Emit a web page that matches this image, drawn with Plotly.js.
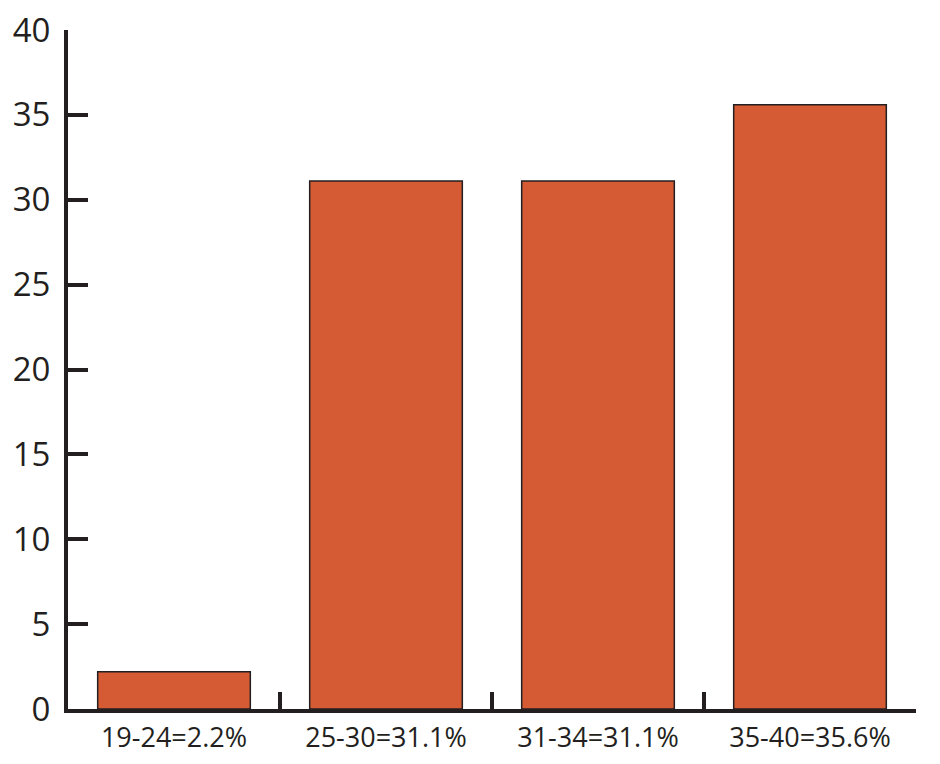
<!DOCTYPE html>
<html>
<head>
<meta charset="utf-8">
<script src="https://cdn.plot.ly/plotly-3.0.1.min.js"></script>
<style>html,body{margin:0;padding:0;background:#fff;}#chart{width:940px;height:764px;}</style>
</head>
<body>
<div id="chart"></div>
<script>
const categories = ["19-24=2.2%", "25-30=31.1%", "31-34=31.1%", "35-40=35.6%"];
const values = [2.2, 31.1, 31.1, 35.6];
const yTicks = [0, 5, 10, 15, 20, 25, 30, 35, 40];

const axisColor = "#231f20";
const trace = {
  type: "bar",
  x: categories,
  y: values,
  marker: {color: "#d45b33", line: {color: axisColor, width: 1.5}},
  hoverinfo: "skip"
};
const layout = {
  width: 940, height: 764,
  margin: {l: 68, r: 24, t: 30, b: 55},
  paper_bgcolor: "#fff", plot_bgcolor: "#fff",
  bargap: 0.28,
  showlegend: false,
  font: {family: "Open Sans, sans-serif", color: axisColor},
  xaxis: {
    type: "category",
    showline: true, linecolor: axisColor, linewidth: 4,
    ticks: "inside", tickson: "boundaries", ticklen: 17, tickwidth: 4, tickcolor: axisColor,
    showgrid: false, zeroline: false,
    tickfont: {size: 27, color: axisColor},
    ticklabelstandoff: 2,
    range: [-0.5, 3.5]
  },
  yaxis: {
    range: [0, 40],
    tickvals: yTicks,
    showline: true, linecolor: axisColor, linewidth: 4,
    ticks: "inside", ticklen: 20, tickwidth: 4, tickcolor: axisColor,
    showgrid: false, zeroline: false,
    tickfont: {size: 33, color: axisColor},
    ticklabelstandoff: 7
  }
};
Plotly.newPlot("chart", [trace], layout, {staticPlot: true});
</script>
</body>
</html>
